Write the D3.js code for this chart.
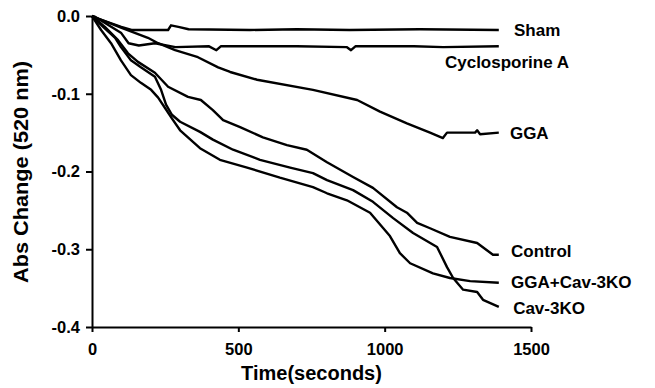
<!DOCTYPE html>
<html>
<head>
<meta charset="utf-8">
<script src="https://cdn.jsdelivr.net/npm/d3@7"></script>
<style>
  body { margin: 0; background: #fff; }
  text { font-family: "Liberation Sans", Arial, sans-serif; fill: #000; }
</style>
</head>
<body>
<svg id="chart"></svg>
<script>
// [time (s), abs change]
var sham = [[0,0],[10,-0.002],[100,-0.014],[135,-0.018],[260,-0.018],[270,-0.012],[295,-0.014],[330,-0.017],
  [540,-0.018],[700,-0.017],[880,-0.018],[1120,-0.017],[1390,-0.018]];
var cyclosporineA = [[0,0],[10,-0.001],[100,-0.022],[125,-0.035],[160,-0.038],[215,-0.035],[285,-0.040],
  [400,-0.039],[425,-0.044],[440,-0.039],[700,-0.039],[870,-0.040],[885,-0.044],[900,-0.039],
  [1100,-0.039],[1200,-0.040],[1390,-0.039]];
var gga = [[0,0],[99,-0.015],[191,-0.028],[226,-0.035],[284,-0.044],[362,-0.053],[431,-0.066],[472,-0.072],
  [564,-0.082],[755,-0.095],[906,-0.108],[984,-0.123],[1076,-0.138],[1155,-0.150],[1199,-0.157],
  [1213,-0.150],[1309,-0.150],[1316,-0.147],[1326,-0.152],[1390,-0.150]];
var control = [[0,0],[44,-0.014],[89,-0.031],[123,-0.048],[157,-0.059],[215,-0.073],[260,-0.091],[328,-0.104],
  [372,-0.108],[413,-0.121],[448,-0.134],[506,-0.143],[584,-0.156],[666,-0.166],[734,-0.172],
  [803,-0.188],[892,-0.207],[960,-0.221],[1042,-0.246],[1076,-0.253],[1111,-0.266],[1155,-0.273],
  [1223,-0.284],[1316,-0.292],[1370,-0.307],[1390,-0.307]];
var cav3ko = [[0,0],[38,-0.014],[79,-0.028],[99,-0.040],[133,-0.057],[167,-0.066],[215,-0.078],[236,-0.095],
  [253,-0.114],[273,-0.127],[301,-0.136],[369,-0.149],[413,-0.159],[482,-0.172],[574,-0.185],
  [677,-0.195],[755,-0.202],[803,-0.211],[892,-0.224],[960,-0.239],[1029,-0.260],[1097,-0.279],
  [1179,-0.297],[1213,-0.323],[1234,-0.337],[1268,-0.352],[1316,-0.355],[1336,-0.365],[1390,-0.374]];
var ggaCav3ko = [[0,0],[31,-0.018],[65,-0.035],[99,-0.057],[133,-0.076],[167,-0.086],[202,-0.095],[226,-0.105],
  [249,-0.118],[270,-0.130],[301,-0.147],[369,-0.170],[437,-0.185],[530,-0.195],[642,-0.208],
  [755,-0.220],[803,-0.228],[871,-0.237],[950,-0.253],[1018,-0.283],[1052,-0.305],[1087,-0.318],
  [1165,-0.331],[1223,-0.337],[1292,-0.341],[1390,-0.343]];

var seriesNames = ["Sham", "Cyclosporine A", "GGA", "Control", "GGA+Cav-3KO", "Cav-3KO"];
var seriesData = [sham, cyclosporineA, gga, control, ggaCav3ko, cav3ko];

var xTicks = [0, 500, 1000, 1500];
var yTicks = [0, -0.1, -0.2, -0.3, -0.4];
var yTickLabels = ["0.0", "-0.1", "-0.2", "-0.3", "-0.4"];

// label anchor points (data units)
var labelPos = [[1442,-0.018],[1206,-0.059],[1428,-0.150],[1432,-0.302],[1432,-0.342],[1439,-0.376]];

var width = 655, height = 388;
var margin = {top: 16, right: 124, bottom: 61, left: 92};

var svg = d3.select('#chart')
  .attr('width', width)
  .attr('height', height);

var x = d3.scaleLinear().domain([0, 1500]).range([margin.left, width - margin.right]);
var y = d3.scaleLinear().domain([0, -0.4]).range([margin.top, height - margin.bottom]);

var xAxis = svg.append('g')
  .attr('transform', 'translate(0,' + (height - margin.bottom) + ')')
  .call(d3.axisBottom(x).tickValues(xTicks).tickSize(5).tickPadding(11).tickSizeOuter(0)
    .tickFormat(d3.format('d')));

var yAxis = svg.append('g')
  .attr('transform', 'translate(' + margin.left + ',0)')
  .call(d3.axisLeft(y).tickValues(yTicks).tickSize(6).tickPadding(6).tickSizeOuter(0)
    .tickFormat(function(d, i) { return yTickLabels[i]; }));

[xAxis, yAxis].forEach(function(g) {
  g.select('.domain').attr('stroke', '#000').attr('stroke-width', 2);
  g.selectAll('.tick line').attr('stroke', '#000').attr('stroke-width', 2);
  g.selectAll('.tick text')
    .style('font-family', '"Liberation Sans", Arial, sans-serif')
    .style('font-size', '16.5px')
    .style('font-weight', 'bold')
    .attr('fill', '#000');
});

var line = d3.line()
  .x(function(d) { return x(d[0]); })
  .y(function(d) { return y(d[1]); });

svg.selectAll('.series')
  .data(seriesData)
  .enter()
  .append('path')
    .attr('class', 'series')
    .attr('d', line)
    .attr('fill', 'none')
    .attr('stroke', '#000')
    .attr('stroke-width', 2.4)
    .attr('stroke-linejoin', 'round');

svg.selectAll('.label')
  .data(seriesNames)
  .enter()
  .append('text')
    .attr('class', 'label')
    .attr('x', function(d, i) { return x(labelPos[i][0]); })
    .attr('y', function(d, i) { return y(labelPos[i][1]); })
    .attr('dy', '0.36em')
    .style('font-size', '17px')
    .style('font-weight', 'bold')
    .text(function(d) { return d; });

svg.append('text')
  .attr('x', (x(0) + x(1500)) / 2)
  .attr('y', 380)
  .attr('text-anchor', 'middle')
  .style('font-size', '20px')
  .style('font-weight', 'bold')
  .text('Time(seconds)');

svg.append('text')
  .attr('transform', 'translate(28,172) rotate(-90)')
  .attr('text-anchor', 'middle')
  .attr('textLength', 222)
  .attr('lengthAdjust', 'spacingAndGlyphs')
  .style('font-size', '20px')
  .style('font-weight', 'bold')
  .text('Abs Change (520 nm)');
</script>
</body>
</html>
